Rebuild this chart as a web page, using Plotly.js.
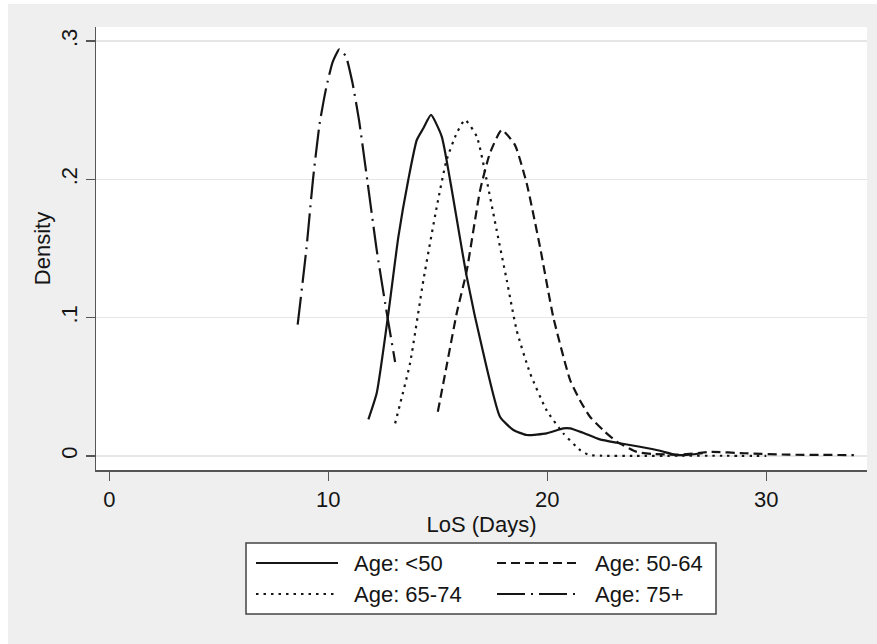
<!DOCTYPE html>
<html>
<head>
<meta charset="utf-8">
<script src="https://cdn.plot.ly/plotly-3.0.1.min.js"></script>
<style>html,body{margin:0;padding:0;background:#fff;}#chart{width:877px;height:644px;}</style>
</head>
<body>
<div id="chart"></div>
<script>
// ---- data ----
const seriesNames = ["Age: <50", "Age: 50-64", "Age: 65-74", "Age: 75+"];

const xLt50 = [11.83, 12.21, 12.74, 13.2, 13.65, 14.04, 14.34, 14.69, 15.18, 15.56, 16.32, 17.08, 17.84, 18.45, 19.06, 19.97, 20.73, 21.04, 21.6, 22.4, 23.17, 24.23, 25.15, 25.9, 26.5, 27.1];
const yLt50 = [0.0265, 0.0455, 0.103, 0.1586, 0.1996, 0.2285, 0.237, 0.2466, 0.231, 0.1996, 0.1297, 0.0743, 0.0284, 0.0188, 0.0152, 0.0164, 0.020, 0.020, 0.017, 0.012, 0.0096, 0.0067, 0.0038, 0.0007, 0.001, 0.002];

const x5064 = [15.0, 15.4, 15.86, 16.32, 16.93, 17.38, 17.92, 18.52, 19.06, 19.67, 20.27, 21.04, 21.5, 21.95, 22.6, 23.17, 24.08, 24.8, 26.0, 27.5, 29.0, 31.0, 34.0];
const y5064 = [0.032, 0.065, 0.103, 0.134, 0.192, 0.219, 0.2357, 0.225, 0.197, 0.151, 0.1007, 0.055, 0.040, 0.0284, 0.018, 0.0104, 0.003, 0.0015, 0.001, 0.003, 0.002, 0.001, 0.0007];

const x6574 = [13.05, 13.73, 14.34, 14.95, 15.4, 15.86, 16.24, 16.78, 17.23, 17.69, 18.15, 18.6, 19.21, 19.97, 20.73, 21.5, 21.9, 22.5, 24, 26, 28, 30];
const y6574 = [0.0236, 0.067, 0.127, 0.180, 0.214, 0.2333, 0.243, 0.231, 0.1996, 0.163, 0.127, 0.091, 0.060, 0.033, 0.0164, 0.0043, 0.0008, 0.0002, 0.0001, 0.0002, 0.0002, 0.0001];

const x75 = [8.6, 9.0, 9.3, 9.6, 9.9, 10.2, 10.5, 10.8, 11.1, 11.4, 11.8, 12.2, 12.6, 13.05];
const y75 = [0.095, 0.150, 0.200, 0.240, 0.266, 0.285, 0.294, 0.289, 0.270, 0.243, 0.197, 0.150, 0.110, 0.068];

const xTickVals = [0, 10, 20, 30];
const yTickVals = [0, 0.1, 0.2, 0.3];
const yTickText = ["0", ".1", ".2", ".3"];

// ---- styles ----
const ink = "#151515";
const FONT = "Liberation Sans, Arial, sans-serif";
const FS = 22;
const dashes = ["solid", "9px,5px", "2.5px,5px", "28px,6px,2px,6px"];
const xs = [xLt50, x5064, x6574, x75];
const ys = [yLt50, y5064, y6574, y75];

const traces = xs.map((x, i) => ({
  x: x, y: ys[i], type: "scatter", mode: "lines", name: seriesNames[i],
  line: {color: ink, width: 2.2, dash: dashes[i], shape: "spline", smoothing: 0.5},
  showlegend: false, hoverinfo: "skip"
}));

// ---- geometry ----
const W = 877, H = 644;
const M = {l: 96, r: 10, t: 27, b: 174};
const pw = W - M.l - M.r, ph = H - M.t - M.b;
const px = v => (v - M.l) / pw;
const py = v => (H - M.b - v) / ph;

const shapes = [];
const annotations = [];
// white strips at top/left edges of the picture
shapes.push({type: "rect", xref: "paper", yref: "paper", x0: px(0), x1: px(W), y0: py(4), y1: py(0), fillcolor: "#ffffff", line: {width: 0}, layer: "below"});
shapes.push({type: "rect", xref: "paper", yref: "paper", x0: px(0), x1: px(8), y0: py(H), y1: py(0), fillcolor: "#ffffff", line: {width: 0}, layer: "below"});
// legend box
shapes.push({type: "rect", xref: "paper", yref: "paper", x0: px(246), x1: px(716), y0: py(614), y1: py(543), fillcolor: "#ffffff", line: {color: "#444", width: 1.5}});
const legPos = [
  {lx0: 256, lx1: 338, tx: 352, y: 563},
  {lx0: 497, lx1: 579, tx: 593, y: 563},
  {lx0: 256, lx1: 338, tx: 352, y: 594},
  {lx0: 497, lx1: 579, tx: 593, y: 594}
];
seriesNames.forEach((n, i) => {
  const p = legPos[i];
  shapes.push({type: "line", xref: "paper", yref: "paper", x0: px(p.lx0), x1: px(p.lx1), y0: py(p.y), y1: py(p.y), line: {color: ink, width: 2, dash: dashes[i]}});
  annotations.push({xref: "paper", yref: "paper", x: px(p.tx), y: py(p.y), xanchor: "left", yanchor: "middle", text: n, showarrow: false, font: {family: FONT, size: FS, color: ink}});
});

const layout = {
  width: W, height: H,
  margin: M,
  paper_bgcolor: "#efefef",
  plot_bgcolor: "#ffffff",
  font: {family: FONT, size: FS, color: ink},
  showlegend: false,
  xaxis: {
    range: [-0.61, 34.6], tickvals: xTickVals, ticks: "outside", ticklen: 9, tickwidth: 1.5, tickcolor: "#555",
    showline: true, linecolor: "#555", linewidth: 1.5, showgrid: false, zeroline: false,
    tickfont: {family: FONT, size: FS, color: ink},
    title: {text: "LoS (Days)", font: {family: FONT, size: FS, color: ink}, standoff: 2},
    automargin: false
  },
  yaxis: {
    range: [-0.0101, 0.3102], tickvals: yTickVals, ticktext: yTickText, tickangle: -90,
    ticks: "outside", ticklen: 9, tickwidth: 1.5, tickcolor: "#555",
    showline: true, linecolor: "#555", linewidth: 1.5, showgrid: true, gridcolor: "#e6e6e6", gridwidth: 1.5, zeroline: false,
    tickfont: {family: FONT, size: FS, color: ink},
    title: {text: "Density", font: {family: FONT, size: FS, color: ink}, standoff: 0},
    automargin: false
  },
  shapes: shapes,
  annotations: annotations
};

Plotly.newPlot("chart", traces, layout, {staticPlot: true, displayModeBar: false});
</script>
</body>
</html>
